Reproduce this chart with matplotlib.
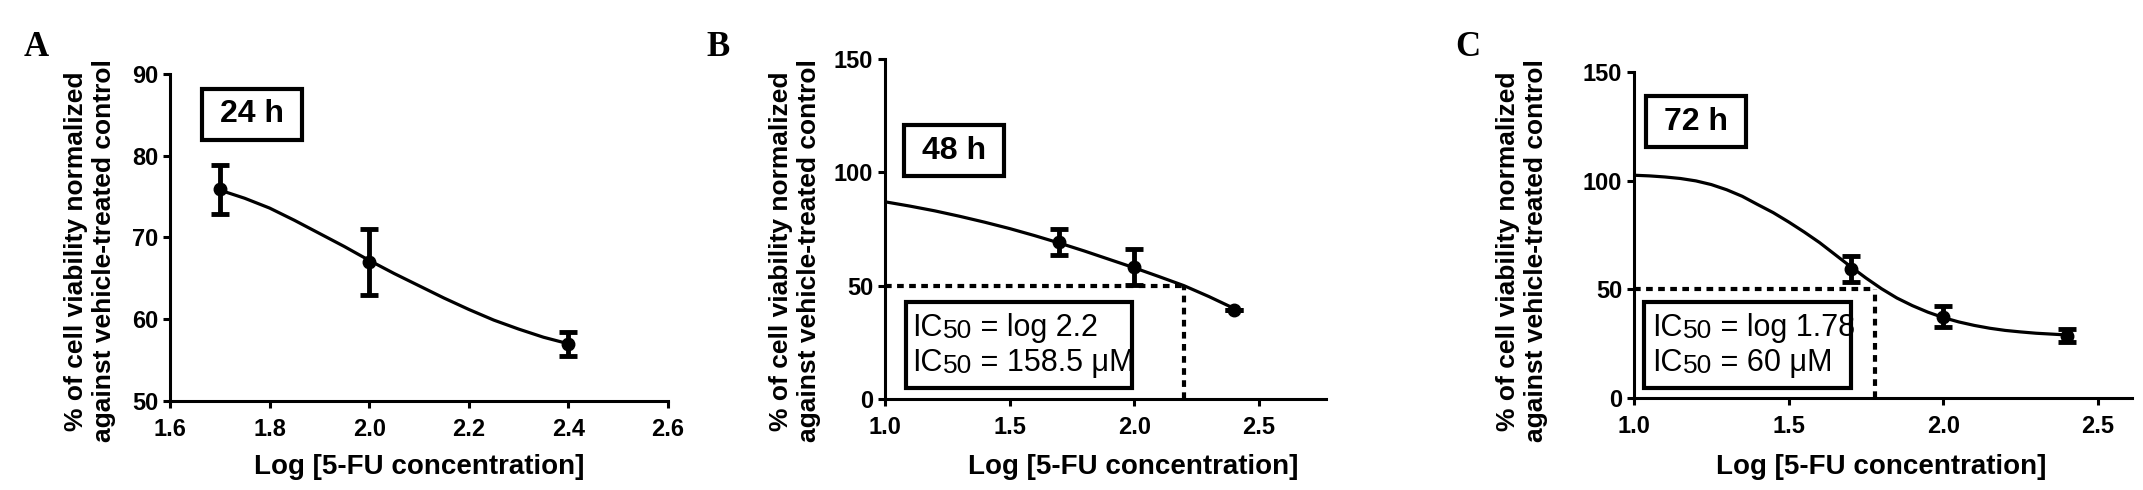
import matplotlib.pyplot as plt
from matplotlib.patches import Rectangle

# ---- datos ----
# A: 24 h
dosis_a = [1.7, 2.0, 2.4]
media_a = [75.9, 67.0, 57.0]
error_a = [3.0, 4.0, 1.5]
curva_x_a = [1.7, 1.75, 1.8, 1.85, 1.9, 1.95, 2.0, 2.05, 2.1, 2.15, 2.2, 2.25, 2.3, 2.35, 2.4]
curva_y_a = [75.8, 74.8, 73.6, 72.1, 70.5, 68.9, 67.2, 65.6, 64.1, 62.6, 61.2, 59.9, 58.8, 57.8, 57.0]

# B: 48 h
dosis_b = [1.7, 2.0, 2.4]
media_b = [69.2, 58.2, 39.3]
error_b = [5.6, 8.0, 0.0]
curva_x_b = [1.0, 1.1, 1.2, 1.3, 1.4, 1.5, 1.6, 1.7, 1.8, 1.9, 2.0, 2.1, 2.2, 2.3, 2.4]
curva_y_b = [87.0, 85.1, 83.0, 80.6, 78.0, 75.2, 72.1, 68.8, 65.3, 61.6, 57.9, 54.0, 50.0, 45.2, 40.0]
ic50_log_b = 2.2

# C: 72 h
dosis_c = [1.7, 2.0, 2.4]
media_c = [59.5, 37.5, 28.7]
error_c = [6.0, 5.0, 3.0]
curva_x_c = [1.0, 1.05, 1.1, 1.15, 1.2, 1.25, 1.3, 1.35, 1.4, 1.45, 1.5, 1.55, 1.6, 1.65, 1.7,
             1.75, 1.8, 1.85, 1.9, 1.95, 2.0, 2.05, 2.1, 2.15, 2.2, 2.25, 2.3, 2.35, 2.4]
curva_y_c = [102.5, 102.2, 101.7, 101.0, 99.9, 98.2, 95.8, 92.8, 89.0, 85.3, 81.0, 76.4, 71.5, 66.0, 60.5,
             55.2, 50.3, 46.0, 42.5, 39.5, 37.0, 35.0, 33.4, 32.1, 31.1, 30.4, 29.8, 29.4, 29.0]
ic50_log_c = 1.78

xticks_a = [1.6, 1.8, 2.0, 2.2, 2.4, 2.6]
yticks_a = [50, 60, 70, 80, 90]
xticks_bc = [1.0, 1.5, 2.0, 2.5]
yticks_bc = [0, 50, 100, 150]

etiqueta_y = "% of cell viability normalized\nagainst vehicle-treated control"
etiqueta_x = "Log [5-FU concentration]"

plt.rcParams['font.family'] = ['Liberation Sans', 'DejaVu Sans']

W, H = 2143, 490
fig = plt.figure(figsize=(W / 100, H / 100), dpi=100)


def ejes(izq, der, arriba, abajo):
    ax = fig.add_axes([izq / W, 1 - abajo / H, (der - izq) / W, (abajo - arriba) / H])
    for lado in ['top', 'right']:
        ax.spines[lado].set_visible(False)
    for lado in ['left', 'bottom']:
        ax.spines[lado].set_linewidth(2.2)
    ax.tick_params(width=2.2, length=5, labelsize=17)
    ax.tick_params(axis='x', pad=7)
    ax.tick_params(axis='y', pad=3.5)
    return ax


def etiquetas(ax):
    for t in ax.get_xticklabels() + ax.get_yticklabels():
        t.set_fontweight('bold')


def caja(ax, x0, x1, y0, y1):
    ax.add_patch(Rectangle((x0, y0), x1 - x0, y1 - y0, fill=False, lw=3, ec='black', zorder=4))


def ic50_texto(ax, x, y, partes):
    t = ax.text(x, y, "IC", fontsize=22, va='center', ha='left', zorder=5)
    t2 = ax.annotate("50", xy=(1, 0), xycoords=t, va='bottom', ha='left', fontsize=19, zorder=5)
    ax.annotate(partes, xy=(1, 0), xycoords=t2, va='bottom', ha='left', fontsize=22, zorder=5)


def puntos(ax, x, y, e):
    ax.errorbar(x, y, yerr=e, fmt='o', color='black', ms=9, elinewidth=3.5,
                capsize=6.5, capthick=3.5, zorder=3)


def curva(ax, x, y):
    ax.plot(x, y, color='black', lw=2.3, solid_joinstyle='round', solid_capstyle='round')


def guias(ax, ic50):
    # lineas punteadas hasta el IC50
    ax.plot([1.0, ic50], [50, 50], color='black', lw=3, ls=(0, (1.6, 1.3)), zorder=2)
    ax.plot([ic50, ic50], [0, 50], color='black', lw=3, ls=(0, (1.6, 1.3)), zorder=2)


# Panel A
ax = ejes(170, 668, 74, 401)
curva(ax, curva_x_a, curva_y_a)
puntos(ax, dosis_a, media_a, error_a)
ax.set_xlim(1.6, 2.6)
ax.set_ylim(50, 90)
ax.set_xticks(xticks_a)
ax.set_yticks(yticks_a)
ax.set_xticklabels([f"{v:.1f}" for v in xticks_a])
etiquetas(ax)
caja(ax, 1.664, 1.865, 81.9, 88.2)
ax.text(1.7645, 85.05, "24 h", fontsize=23, fontweight='bold', ha='center', va='center')

# Panel B
ax = ejes(885, 1326, 59, 399)
guias(ax, ic50_log_b)
curva(ax, curva_x_b, curva_y_b)
puntos(ax, dosis_b, media_b, error_b)
ax.set_xlim(1.0, 2.77)
ax.set_ylim(0, 150)
ax.set_xticks(xticks_bc)
ax.set_yticks(yticks_bc)
etiquetas(ax)
caja(ax, 1.076, 1.478, 98.4, 120.9)
ax.text(1.277, 109.6, "48 h", fontsize=23, fontweight='bold', ha='center', va='center')
caja(ax, 1.084, 1.993, 4.9, 42.8)
ic50_texto(ax, 1.11, 31.3, f" = log {ic50_log_b}")
ic50_texto(ax, 1.11, 15.9, " = 158.5 \u03bcM")

# Panel C
ax = ejes(1634, 2132, 72, 398)
guias(ax, ic50_log_c)
curva(ax, curva_x_c, curva_y_c)
puntos(ax, dosis_c, media_c, error_c)
ax.set_xlim(1.0, 2.61)
ax.set_ylim(0, 150)
ax.set_xticks(xticks_bc)
ax.set_yticks(yticks_bc)
etiquetas(ax)
caja(ax, 1.039, 1.361, 115.5, 139.0)
ax.text(1.2, 127.2, "72 h", fontsize=23, fontweight='bold', ha='center', va='center')
caja(ax, 1.032, 1.703, 4.6, 44.2)
ic50_texto(ax, 1.06, 32.2, f" = log {ic50_log_c}")
ic50_texto(ax, 1.06, 16.1, " = 60 \u03bcM")

# textos de la figura
for xl, xx in [(90, 419), (795, 1133), (1522, 1881)]:
    fig.text(xl / W, 1 - 251 / H, etiqueta_y, rotation=90, ha='center', va='center',
             fontsize=19, fontweight='bold', linespacing=1.2, multialignment='center')
    fig.text(xx / W, 1 - 467 / H, etiqueta_x, ha='center', va='center',
             fontsize=20, fontweight='bold')

for letra, lx, ly in [("A", 36, 48), ("B", 718, 47), ("C", 1468, 47)]:
    fig.text(lx / W, 1 - ly / H, letra, ha='center', va='center', fontsize=25,
             fontweight='bold', family=['Liberation Serif', 'DejaVu Serif'])

fig.savefig("out.png", dpi=100)
